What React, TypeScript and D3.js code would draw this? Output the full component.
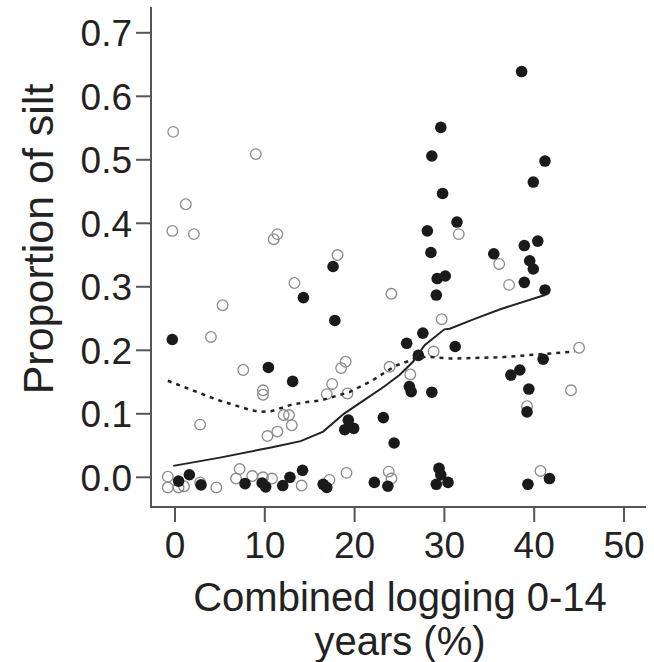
import React from "react";
import * as d3 from "d3";

// Open circles (one group)
const openX = [-0.2, 9.0, 1.2, -0.3, 2.1, 11.4, 11.0, 13.3, 5.3, 4.0, 7.6, 9.8, 9.8, 2.8, 12.1, 12.7, 13.0, 11.4, 10.3, -0.8, -0.8, 0.4, 1.0, 2.8, 4.6, 7.2, 6.8, 8.6, 9.8, 10.8, 14.1, 18.5, 19.0, 17.5, 16.9, 19.2, 23.9, 17.2, 19.1, 23.8, 24.1, 18.1, 31.6, 36.1, 24.1, 29.7, 28.8, 26.2, 37.2, 45.0, 44.1, 39.2, 40.7];
const openY = [0.544, 0.509, 0.43, 0.388, 0.383, 0.383, 0.375, 0.306, 0.271, 0.221, 0.169, 0.137, 0.13, 0.083, 0.098, 0.098, 0.082, 0.072, 0.065, 0.001, -0.016, -0.016, -0.014, -0.008, -0.016, 0.013, -0.002, 0.002, 0.0, -0.002, -0.013, 0.172, 0.182, 0.147, 0.131, 0.132, 0.174, -0.004, 0.007, 0.009, -0.002, 0.35, 0.383, 0.336, 0.289, 0.249, 0.198, 0.162, 0.303, 0.204, 0.137, 0.112, 0.01];

// Filled circles (other group)
const filledX = [-0.3, 0.4, 1.6, 2.9, 7.8, 9.7, 10.1, 10.4, 12.0, 12.8, 13.1, 14.2, 14.3, 16.5, 16.9, 17.6, 17.8, 19.3, 18.9, 19.9, 23.2, 24.4, 22.2, 23.7, 26.1, 26.3, 28.6, 27.1, 25.8, 27.6, 31.2, 29.1, 29.2, 30.1, 28.5, 28.1, 31.4, 29.8, 28.6, 29.6, 29.4, 29.6, 29.1, 30.4, 35.5, 38.6, 41.2, 39.9, 40.4, 38.9, 39.5, 39.9, 38.9, 41.2, 41.0, 38.4, 37.4, 39.4, 39.2, 41.7, 39.3];
const filledY = [0.217, -0.006, 0.004, -0.012, -0.01, -0.009, -0.015, 0.173, -0.013, 0.0, 0.151, 0.011, 0.283, -0.011, -0.016, 0.332, 0.247, 0.09, 0.075, 0.077, 0.094, 0.054, -0.008, -0.014, 0.143, 0.135, 0.134, 0.192, 0.211, 0.227, 0.206, 0.287, 0.313, 0.317, 0.354, 0.388, 0.402, 0.447, 0.506, 0.551, 0.014, 0.004, -0.011, -0.008, 0.352, 0.639, 0.498, 0.465, 0.372, 0.365, 0.341, 0.328, 0.307, 0.295, 0.186, 0.169, 0.161, 0.139, 0.103, -0.002, -0.011];

// Smoothed trend for filled group (solid)
const solidX = [-0.2, 5, 10.7, 14.0, 16.5, 18.8, 21.1, 23.3, 25.0, 26.5, 27.8, 30.0, 30.6, 33.3, 36.3, 41.2];
const solidY = [0.018, 0.031, 0.047, 0.057, 0.072, 0.1, 0.122, 0.143, 0.161, 0.182, 0.208, 0.233, 0.234, 0.249, 0.265, 0.287];

// Smoothed trend for open group (dashed)
const dashedX = [-0.8, 4.7, 8.4, 9.5, 10.7, 12.9, 14.4, 16.2, 17.7, 19.4, 21.8, 24.6, 27.0, 28.1, 30.7, 36.3, 44.5];
const dashedY = [0.152, 0.122, 0.106, 0.103, 0.104, 0.114, 0.118, 0.121, 0.127, 0.134, 0.151, 0.176, 0.188, 0.19, 0.187, 0.189, 0.198];

const xTicks = [0, 10, 20, 30, 40, 50];
const yTicks = [0, 0.1, 0.2, 0.3, 0.4, 0.5, 0.6, 0.7];
const xTitleLines = ["Combined logging 0-14", "years (%)"];
const yTitle = "Proportion of silt";

export default function App() {
  const W = 654;
  const H = 662;
  const x = d3.scaleLinear().domain([0, 50]).range([175, 624]);
  const y = d3.scaleLinear().domain([0, 0.7]).range([477.3, 32.8]);
  const axisLeft = 151;
  const axisBottom = 507;
  const font = "'Liberation Sans', Arial, Helvetica, sans-serif";

  const line = d3
    .line<[number, number]>()
    .x((d) => x(d[0]))
    .y((d) => y(d[1]));
  const solidPath = line(solidX.map((v, i) => [v, solidY[i]]));
  const dashedPath = line(dashedX.map((v, i) => [v, dashedY[i]]));

  return (
    <svg
      width={W}
      height={H}
      style={{ position: "absolute", left: 0, top: 0, background: "#fff" }}
    >
      <rect x={0} y={0} width={W} height={H} fill="#fff" />
      {/* axes */}
      <path
        d={`M${axisLeft},7 V${axisBottom} H646`}
        fill="none"
        stroke="#555"
        strokeWidth={2}
      />
      {yTicks.map((t) => (
        <g key={"y" + t}>
          <line x1={axisLeft - 15} x2={axisLeft} y1={y(t)} y2={y(t)} stroke="#555" strokeWidth={2} />
          <text
            x={axisLeft - 19}
            y={y(t)}
            dy="0.36em"
            textAnchor="end"
            fontFamily={font}
            fontSize={37}
            fill="#222"
          >
            {t.toFixed(1)}
          </text>
        </g>
      ))}
      {xTicks.map((t) => (
        <g key={"x" + t}>
          <line x1={x(t)} x2={x(t)} y1={axisBottom} y2={axisBottom + 15} stroke="#555" strokeWidth={2} />
          <text
            x={x(t)}
            y={545}
            dy="0.36em"
            textAnchor="middle"
            fontFamily={font}
            fontSize={37}
            fill="#222"
          >
            {t}
          </text>
        </g>
      ))}
      {/* axis titles */}
      <text
        x={400}
        y={597}
        dy="0.36em"
        textAnchor="middle"
        fontFamily={font}
        fontSize={40}
        fill="#222"
      >
        {xTitleLines[0]}
      </text>
      <text
        x={400}
        y={641}
        dy="0.36em"
        textAnchor="middle"
        fontFamily={font}
        fontSize={40}
        fill="#222"
      >
        {xTitleLines[1]}
      </text>
      <text
        transform={`translate(38,${239}) rotate(-90)`}
        dy="0.36em"
        textAnchor="middle"
        fontFamily={font}
        fontSize={43}
        fill="#222"
      >
        {yTitle}
      </text>

      {/* open circles */}
      {openX.map((v, i) => (
        <circle
          key={"o" + i}
          cx={x(v)}
          cy={y(openY[i])}
          r={5.3}
          fill="none"
          stroke="#8a8a8a"
          strokeWidth={1.3}
        />
      ))}
      {/* filled circles */}
      {filledX.map((v, i) => (
        <circle key={"f" + i} cx={x(v)} cy={y(filledY[i])} r={5.8} fill="#1a1a1a" />
      ))}
      {/* trend lines */}
      <path d={solidPath || ""} fill="none" stroke="#222" strokeWidth={2} />
      <path
        d={dashedPath || ""}
        fill="none"
        stroke="#222"
        strokeWidth={2.5}
        strokeDasharray="4 5"
      />
    </svg>
  );
}
